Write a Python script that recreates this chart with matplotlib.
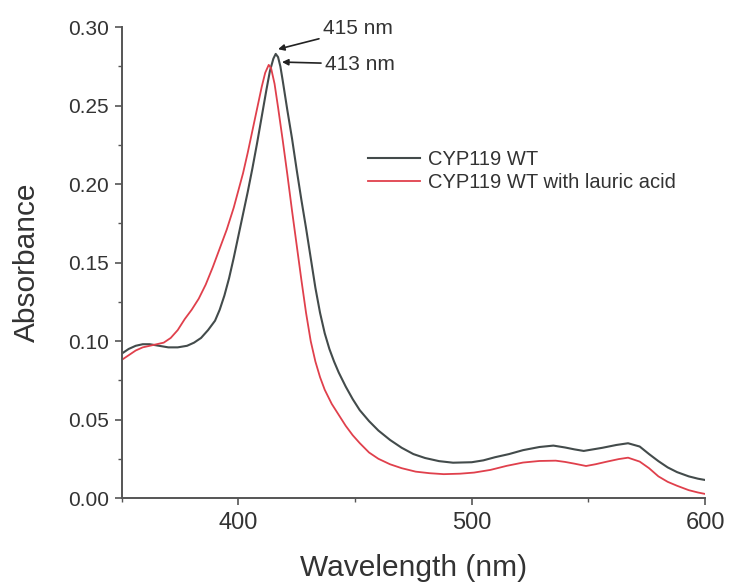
import numpy as np
import matplotlib
matplotlib.use('Agg')
import matplotlib.pyplot as plt
from matplotlib.ticker import MultipleLocator

plt.rcParams['font.family'] = ['Liberation Sans', 'DejaVu Sans']

# CYP119 WT (grey trace)
wl_wt = [350, 353, 356, 359, 362, 366, 370, 374, 378, 381, 384, 387, 390, 392, 394,
         396, 398, 400, 402, 404, 406, 408, 410, 412, 413.5, 415, 416, 417, 418, 419,
         421, 423, 425, 427, 429, 431, 433, 435, 437, 439, 441, 443, 446, 449, 452,
         456, 460, 465, 470, 475, 480, 486, 492, 500, 505, 510, 516, 522, 529, 535,
         540, 544, 548, 552, 556, 562, 567, 572, 576, 580, 584, 588, 593, 597, 600]
abs_wt = [0.092, 0.095, 0.097, 0.098, 0.098, 0.097, 0.096, 0.096, 0.097, 0.099, 0.102,
          0.107, 0.113, 0.120, 0.129, 0.140, 0.153, 0.167, 0.181, 0.195, 0.210, 0.226,
          0.243, 0.260, 0.272, 0.280, 0.283, 0.281, 0.275, 0.266, 0.247, 0.229, 0.209,
          0.190, 0.172, 0.153, 0.134, 0.118, 0.105, 0.095, 0.087, 0.080, 0.071, 0.063,
          0.056, 0.049, 0.043, 0.037, 0.032, 0.028, 0.0255, 0.0235, 0.0225, 0.0228,
          0.024, 0.026, 0.028, 0.0305, 0.0325, 0.0334, 0.0322, 0.031, 0.030, 0.031,
          0.032, 0.0338, 0.0349, 0.0328, 0.028, 0.0235, 0.0195, 0.0165, 0.0138, 0.0123,
          0.0115]

# CYP119 WT with lauric acid (red trace)
wl_la = [350, 353, 356, 359, 362, 365, 368, 371, 374, 377, 380, 383, 386, 389, 392,
         395, 398, 400, 402, 404, 406, 408, 410, 411.5, 413, 414, 415.5, 417, 419, 421,
         423, 425, 427, 429, 431, 433, 435, 437, 440, 443, 446, 449, 452, 456, 460,
         465, 470, 476, 482, 488, 495, 501, 508, 515, 522, 529, 536, 540, 544, 549,
         553, 558, 563, 567, 572, 576, 580, 584, 588, 593, 597, 600]
abs_la = [0.088, 0.091, 0.094, 0.096, 0.097, 0.098, 0.099, 0.102, 0.107, 0.114, 0.120,
          0.127, 0.136, 0.147, 0.159, 0.171, 0.185, 0.196, 0.207, 0.220, 0.234, 0.248,
          0.262, 0.271, 0.276, 0.274, 0.264, 0.249, 0.228, 0.206, 0.183, 0.161, 0.139,
          0.118, 0.100, 0.087, 0.077, 0.069, 0.060, 0.053, 0.046, 0.040, 0.035, 0.029,
          0.025, 0.0215, 0.019, 0.0168, 0.0158, 0.0152, 0.0155, 0.0162, 0.0179, 0.0205,
          0.0226, 0.0236, 0.0238, 0.0230, 0.0219, 0.0204, 0.0215, 0.0232, 0.0248, 0.0257,
          0.0232, 0.019, 0.0138, 0.0103, 0.0078, 0.0050, 0.0035, 0.0026]

labels = ['CYP119 WT', 'CYP119 WT with lauric acid']
peak_labels = ['415 nm', '413 nm']

fig = plt.figure(figsize=(7.31, 5.87), dpi=100)
ax = fig.add_axes([0.1665, 0.1516, 0.798, 0.802])

ax.plot(wl_wt, abs_wt, color='#434b4b', lw=1.5, label=labels[0])
ax.plot(wl_la, abs_la, color='#e0404c', lw=1.3, label=labels[1])

# peak annotations
ax.annotate(peak_labels[0], xy=(417, 0.286), xytext=(436.3, 0.299), fontsize=15,
            color='#333333', ha='left', va='center',
            arrowprops=dict(arrowstyle='-|>', color='#222222', lw=1.2,
                            mutation_scale=9, shrinkA=1, shrinkB=0))
ax.annotate(peak_labels[1], xy=(418.7, 0.2778), xytext=(437.2, 0.2765), fontsize=15,
            color='#333333', ha='left', va='center',
            arrowprops=dict(arrowstyle='-|>', color='#222222', lw=1.2,
                            mutation_scale=9, shrinkA=1, shrinkB=0))

ax.set_xlim(350, 600)
ax.set_ylim(0, 0.30)
ax.xaxis.set_major_locator(MultipleLocator(100))
ax.xaxis.set_minor_locator(MultipleLocator(50))
ax.yaxis.set_major_locator(MultipleLocator(0.05))
ax.yaxis.set_minor_locator(MultipleLocator(0.025))
ax.yaxis.set_major_formatter(plt.FormatStrFormatter('%.2f'))

for side in ['top', 'right']:
    ax.spines[side].set_visible(False)
for side in ['left', 'bottom']:
    ax.spines[side].set_color('#555555')
    ax.spines[side].set_linewidth(1.4)

ax.tick_params(which='major', direction='out', length=5, width=1.2, colors='#555555',
               labelcolor='#333333')
ax.tick_params(which='minor', direction='out', length=3, width=1.0, colors='#555555')
ax.tick_params(axis='x', which='major', labelsize=17, pad=5)
ax.tick_params(axis='y', which='major', labelsize=15, pad=4)

ax.set_xlabel('Wavelength (nm)', fontsize=21.5, color='#333333')
ax.set_ylabel('Absorbance', fontsize=21.5, color='#333333')
ax.xaxis.set_label_coords(0.5, -0.119)
ax.yaxis.set_label_coords(-0.138, 0.5)

ax.legend(loc='upper left', bbox_to_anchor=(0.422, 0.739), frameon=False, fontsize=14.5,
          handlelength=2.6, handletextpad=0.4, labelspacing=0.2, borderpad=0,
          borderaxespad=0, labelcolor='#333333')

fig.savefig('out.png', dpi=100)
